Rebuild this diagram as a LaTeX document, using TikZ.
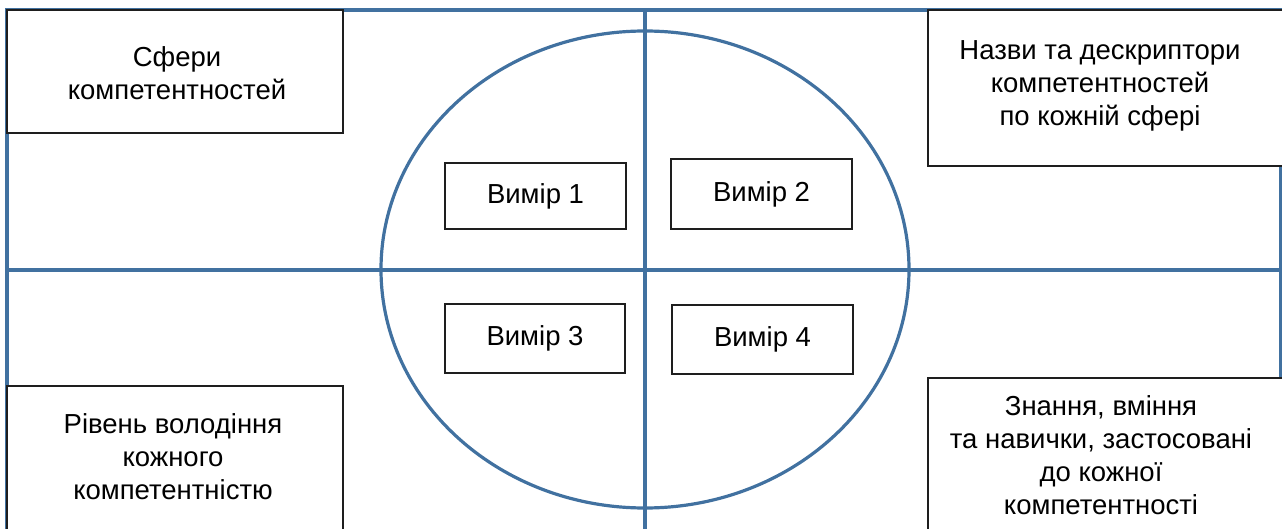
\documentclass[tikz,border=0pt]{standalone}
\usepackage{fontspec}
\setmainfont{Liberation Sans}
\definecolor{axisblue}{RGB}{65,113,160}
\definecolor{boxline}{RGB}{30,30,30}
\tikzset{
  axis/.style={draw=axisblue, line width=3.2pt},
  panel/.style={draw=boxline, line width=1.4pt, fill=white},
  paneltext/.style={align=center, inner sep=0pt, font=\fontsize{27.5}{33}\selectfont},
  dimbox/.style={draw=boxline, line width=1.4pt, fill=white, inner sep=0pt,
                 minimum width=181pt, minimum height=68pt,
                 font=\fontsize{27.5}{33}\selectfont}
}
\begin{document}
\begin{tikzpicture}[x=1pt, y=-1pt]
\useasboundingbox (0,0) rectangle (1282,529);
\clip (0,0) rectangle (1282,529);

% quadrant frame
\coordinate (tl) at (7,10);
\coordinate (tr) at (1281,10);
\coordinate (bl) at (7,540);
\coordinate (br) at (1281,540);
\coordinate (ml) at (7,270);
\coordinate (mr) at (1290,270);
\coordinate (mt) at (645,10);
\coordinate (mb) at (645,540);
\draw[axis] (bl) -- (tl) -- (tr) -- (br);
\draw[axis] (ml) -- (mr);
\draw[axis] (mt) -- (mb);
\draw[axis] (645,269.5) ellipse [x radius=264, y radius=238.5];

% corner panels
\draw[panel] (7,10) rectangle (343,133);
\node[paneltext] (sfery) at (177,73) {Сфери\\компетентностей};

\draw[panel] (928,10) rectangle (1295,166);
\node[paneltext] (nazvy) at (1100,86) {Назви та дескриптори\\компетентностей\\по кожній сфері};

\draw[panel] (7,386) rectangle (343,545);
\node[paneltext] (riven) at (173,457) {Рівень володіння\\кожного\\компетентністю};

\draw[panel] (928,378) rectangle (1295,545);
\node[paneltext] (znannia) at (1101,455) {Знання, вміння\\та навички, застосовані\\до кожної\\компетентності};

% dimension boxes
\node[dimbox, minimum height=66pt] (v1) at (535.5,196) {Вимір 1};
\node[dimbox, minimum height=70pt] (v2) at (761.5,194) {Вимір 2};
\node[dimbox, minimum width=180pt, minimum height=69pt] (v3) at (535,338.5) {Вимір 3};
\node[dimbox, minimum height=69pt] (v4) at (762.5,339.5) {Вимір 4};
\end{tikzpicture}
\end{document}
